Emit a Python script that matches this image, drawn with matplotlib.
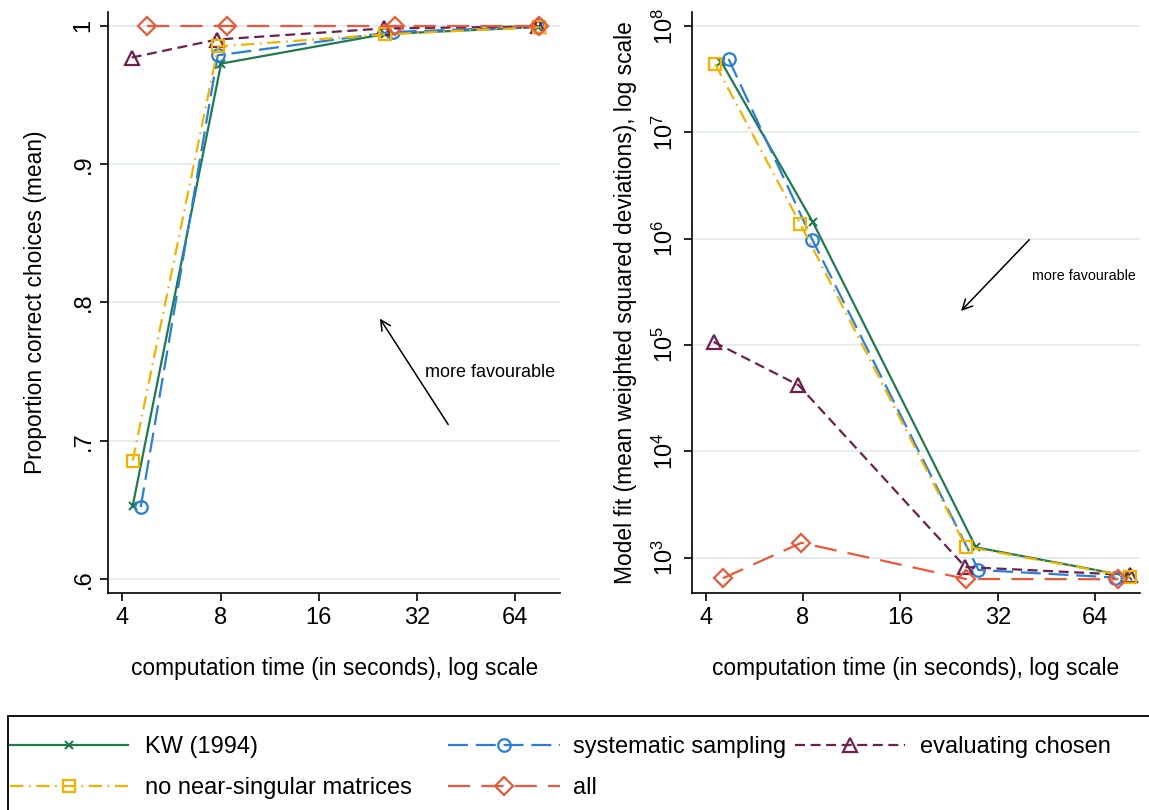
import matplotlib
matplotlib.use("Agg")
import matplotlib.pyplot as plt
from matplotlib.patches import Rectangle

plt.rcParams['font.family'] = ['Liberation Sans', 'DejaVu Sans']
plt.rcParams['mathtext.fontset'] = 'custom'
plt.rcParams['mathtext.rm'] = 'Liberation Sans'
plt.rcParams['mathtext.it'] = 'Liberation Sans'

# left panel: proportion correct choices (mean)
kw_x_l = [4.30, 8.03, 25.6, 75.5]
kw_y_l = [0.653, 0.9726, 0.9940, 0.9990]
sys_x_l = [4.55, 7.84, 27.0, 75.5]
sys_y_l = [0.652, 0.9786, 0.9955, 0.9992]
eval_x_l = [4.27, 7.80, 25.4, 75.5]
eval_y_l = [0.977, 0.990, 0.998, 0.9995]
nons_x_l = [4.30, 7.87, 25.5, 75.8]
nons_y_l = [0.6856, 0.985, 0.9937, 0.9990]
all_x_l = [4.75, 8.37, 27.4, 75.7]
all_y_l = [1.0, 1.0, 1.0, 1.0]

# right panel: model fit (mean weighted squared deviations)
kw_x_r = [4.47, 8.59, 27.4, 81.0]
kw_y_r = [4.6e7, 1.42e6, 1.25e3, 670]
sys_x_r = [4.71, 8.55, 27.9, 74.0]
sys_y_r = [4.88e7, 9.75e5, 766, 650]
eval_x_r = [4.23, 7.74, 25.4, 82.0]
eval_y_r = [1.07e5, 4.2e4, 817, 687]
nons_x_r = [4.28, 7.84, 25.5, 82.3]
nons_y_r = [4.38e7, 1.38e6, 1.27e3, 661]
all_x_r = [4.52, 7.90, 25.5, 75.6]
all_y_r = [640, 1.38e3, 630, 627]

x_ticks = [4, 8, 16, 32, 64]
left_yticks = [0.6, 0.7, 0.8, 0.9, 1.0]
left_ylabels = ['.6', '.7', '.8', '.9', '1']
right_yticks = [1e3, 1e4, 1e5, 1e6, 1e7, 1e8]
right_ylabels = [r'$10^{%d}$' % k for k in range(3, 9)]

labels = ['KW (1994)', 'systematic sampling', 'evaluating chosen',
          'no near-singular matrices', 'all']

c_green = '#1f7a4d'
c_blue = '#2a7fd4'
c_maroon = '#6b2150'
c_gold = '#f2b300'
c_red = '#ea5a3a'

styles = [
    dict(color=c_green, ls='-', marker='x', ms=6, mew=1.5),
    dict(color=c_blue, ls=(0, (9, 3.5)), marker='o', ms=9, mfc='none', mew=1.6),
    dict(color=c_maroon, ls=(0, (4.5, 2.5)), marker='^', ms=10.5, mfc='none', mew=1.6),
    dict(color=c_gold, ls=(0, (6, 2.5, 0.8, 2.5)), marker='s', ms=9, mfc='none', mew=1.6),
    dict(color=c_red, ls=(0, (10, 5)), marker='D', ms=9, mfc='none', mew=1.6),
]

fig = plt.figure(figsize=(11.49, 8.10), dpi=100)
ax1 = fig.add_axes([0.0943, 0.268, 0.393, 0.717])
ax2 = fig.add_axes([0.602, 0.268, 0.390, 0.717])

left_data = [(kw_x_l, kw_y_l), (sys_x_l, sys_y_l), (eval_x_l, eval_y_l),
             (nons_x_l, nons_y_l), (all_x_l, all_y_l)]
right_data = [(kw_x_r, kw_y_r), (sys_x_r, sys_y_r), (eval_x_r, eval_y_r),
              (nons_x_r, nons_y_r), (all_x_r, all_y_r)]

handles = []
for (x, y), st, lab in zip(left_data, styles, labels):
    h, = ax1.plot(x, y, lw=1.6, label=lab, **st)
    handles.append(h)
for (x, y), st in zip(right_data, styles):
    ax2.plot(x, y, lw=1.6, **st)

ax2.set_yscale('log')
for ax in (ax1, ax2):
    ax.set_xscale('log', base=2)
    ax.set_xlim(3.62, 88)
    ax.set_xticks(x_ticks)
    ax.set_xticklabels([str(t) for t in x_ticks])
    ax.minorticks_off()
    for s in ['top', 'right']:
        ax.spines[s].set_visible(False)
    for s in ['left', 'bottom']:
        ax.spines[s].set_linewidth(1.2)
    ax.tick_params(axis='both', length=6, width=1.2, labelsize=17, pad=4)
    ax.tick_params(axis='y', labelrotation=90)
    ax.grid(axis='y', color='#e6edf1', lw=1.5)
    ax.set_axisbelow(True)
    ax.set_xlabel('computation time (in seconds), log scale', fontsize=16.4, labelpad=20)

ax1.set_ylim(0.590, 1.0098)
ax1.set_yticks(left_yticks)
ax1.set_yticklabels(left_ylabels, va='center')
ax1.set_ylabel('Proportion correct choices (mean)', fontsize=16.4, labelpad=18)

ax2.set_ylim(466, 1.35e8)
ax2.set_yticks(right_yticks)
ax2.set_yticklabels(right_ylabels, va='center')
ax2.minorticks_off()
ax2.set_ylabel('Model fit (mean weighted squared deviations), log scale', fontsize=16.4, labelpad=11)

ax1.annotate('', xy=(24.4, 0.79), xytext=(40.4, 0.71),
             arrowprops=dict(arrowstyle='->', color='black', lw=1.1, mutation_scale=18))
ax1.text(34.0, 0.749, 'more favourable', fontsize=13, va='center', ha='left')

ax2.annotate('', xy=(24.3, 2.0e5), xytext=(40.6, 1.02e6),
             arrowprops=dict(arrowstyle='->', color='black', lw=1.1, mutation_scale=18))
ax2.text(40.8, 4.45e5, 'more favourable', fontsize=10.3, va='center', ha='left')

# legend box, running off the figure edge like the original
fig.patches.append(Rectangle((8 / 1149, -0.05), 1.2, 1 - 716 / 810 + 0.05,
                             transform=fig.transFigure, fill=False,
                             edgecolor='black', lw=1.3))
cols = [([handles[0], handles[3]], 10, 5.0, 0.7),
        ([handles[1], handles[4]], 448, 4.75, 0.55),
        ([handles[2]], 795, 4.66, 0.64)]
for hs, xpx, hl, tp in cols:
    fig.legend(handles=hs, loc='upper left', bbox_to_anchor=(xpx / 1149, 1 - 736 / 810),
               frameon=False, fontsize=17, handlelength=hl, handletextpad=tp,
               labelspacing=0.82, borderpad=0, borderaxespad=0)

fig.savefig('out.png', dpi=100)
